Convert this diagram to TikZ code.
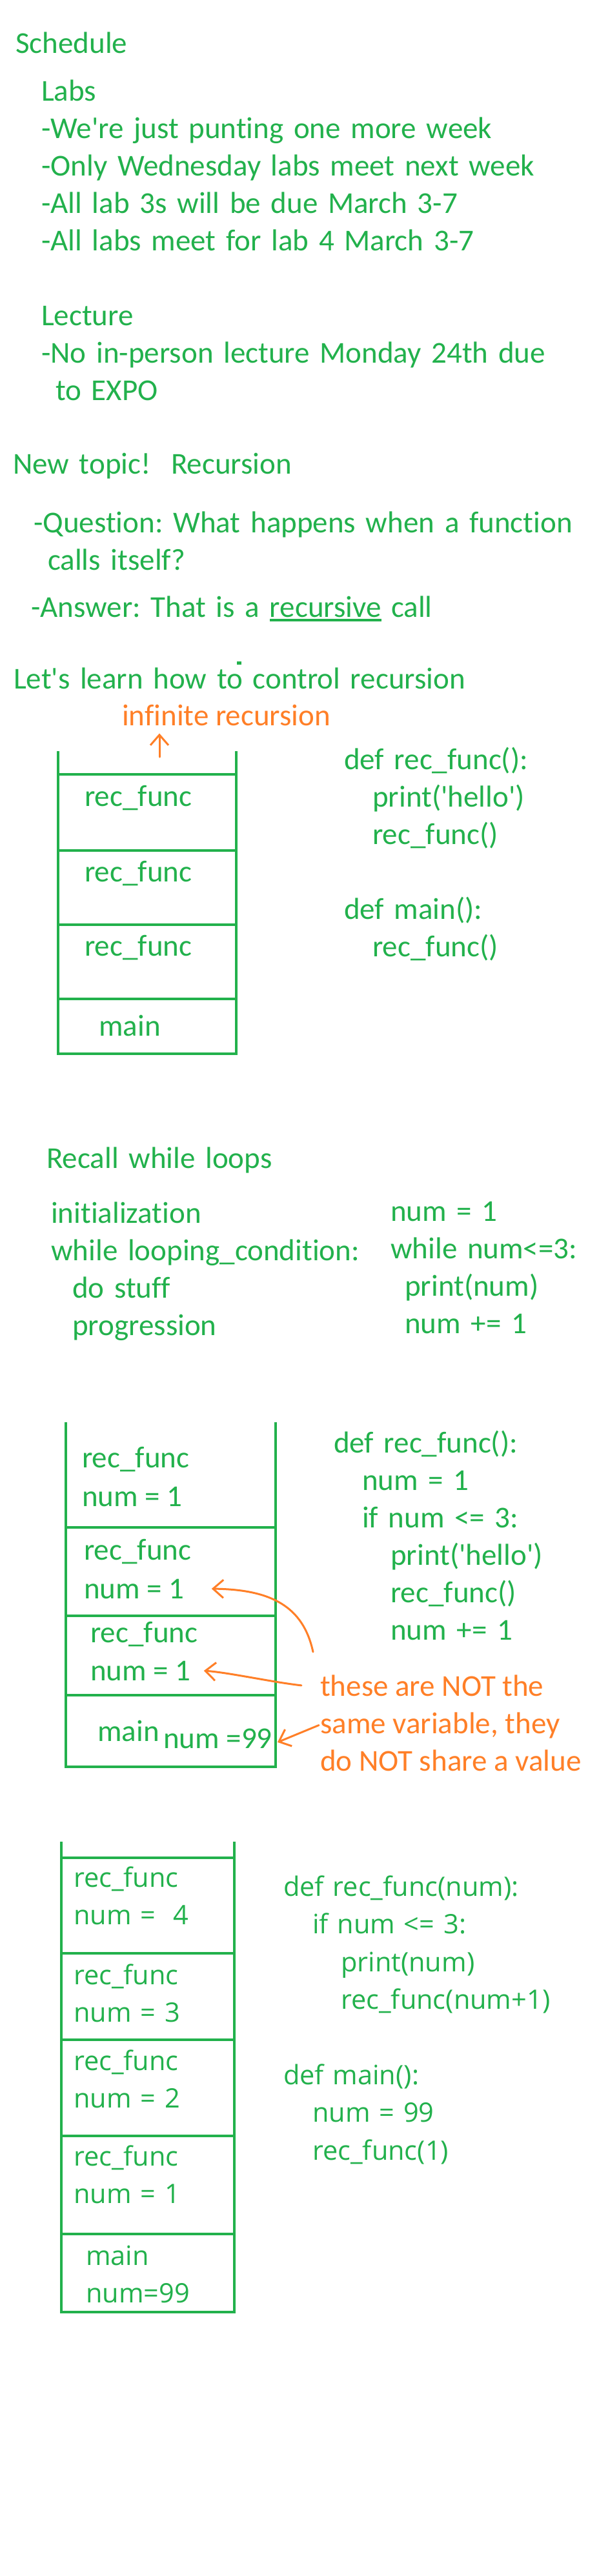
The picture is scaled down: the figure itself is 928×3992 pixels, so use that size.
\documentclass[tikz,border=0pt]{standalone}
\usepackage{fontspec}
\setmainfont{Carlito}[Ligatures=NoCommon]
\newfontfamily\uifont{Open Sans}
\usepackage{tikz}
\usetikzlibrary{arrows.meta, positioning, calc}

\definecolor{inkGreen}{HTML}{22B14C}
\definecolor{inkOrange}{HTML}{FF7F27}

\newcommand{\sq}{\textquotesingle}
\newcommand{\uword}[1]{\vtop{\hbox{#1}\kern3pt\hrule height 4pt}}

\begin{document}
\begin{tikzpicture}[
		x=1pt, y=-1pt,
		%--- Text Styles ---------------------------------------------------
		note/.style={
			anchor=base west,
			inner sep=0pt,
			text=inkGreen,
			font=\fontsize{47}{58}\selectfont\frenchspacing
		},
		block/.style={
			note,
			text width=860pt,
			align=left
		},
		ui/.style={
			note,
			font=\uifont\fontsize{41.5}{58.5}\selectfont\frenchspacing
		},
		ui block/.style={
			block,
			font=\uifont\fontsize{41.5}{58.5}\selectfont\frenchspacing
		},
		remark/.style={
			note,
			text=inkOrange
		},
		%--- Line Styles ---------------------------------------------------
		frame/.style={
			draw=inkGreen,
			line width=4.5pt
		},
		pointer/.style={
			-{Straight Barb[length=16pt,width=28pt]},
			draw=inkOrange,
			line width=3pt,
			line cap=round,
			line join=round
		}
		]
		
		\path[use as bounding box, fill=white] (0,0) rectangle (928,3992);
		
		%--- Schedule ----------------------------------------------------------
		
		\node[block] (sched) at (24,82) {Schedule};
		
		\node[block] (labs) at (64,156)
		{Labs\\-We\sq re just punting one more week\\-Only Wednesday labs meet next week\\-All lab 3s will be due March 3-7\\-All labs meet for lab 4 March 3-7\\[58pt]Lecture\\-No in-person lecture Monday 24th due\\\hspace*{22pt}to EXPO};
		
		%--- Recursion intro ---------------------------------------------------
		
		\node[block] (topic) at (20,734) {New topic!\ \ Recursion};
		
		\node[block] (question) at (52,825)
		{-Question: What happens when a function\\\hspace*{22pt}calls itself?};
		
		\node[block] (answer) at (48,956)
		{-Answer: That is a \uword{recursive} call};
		
		\fill[inkGreen] (367,1025) rectangle (374,1030);
		
		\node[block] (learn) at (21,1067) {Let\sq s learn how to control recursion};
		
		\node[remark] (infrec) at (189,1124) {infinite recursion};
		
		%--- Stack A: endless calls --------------------------------------------
		
		\draw[frame] (90,1164) -- (90,1633) -- (366,1633) -- (366,1164);
		\draw[frame] (90,1200) -- (366,1200) (90,1318) -- (366,1318)
		(90,1433) -- (366,1433) (90,1548) -- (366,1548);
		
		\node[note] (callA3) at (131,1249) {rec\_func};
		\node[note] (callA2) at (131,1366) {rec\_func};
		\node[note] (callA1) at (131,1481) {rec\_func};
		\node[note] (mainA)  at (153,1605) {main};
		
		\coordinate (topA) at (247,1173);
		\draw[pointer, shorten >=12pt] (topA) -- (infrec.south -| topA);
		
		\node[block] (codeA) at (533,1192)
		{def rec\_func():\\\hspace*{44pt}print(\sq hello\sq)\\\hspace*{44pt}rec\_func()\\[58pt]def main():\\\hspace*{44pt}rec\_func()};
		
		%--- While loop recap --------------------------------------------------
		
		\node[block] (recall) at (72,1810) {Recall while loops};
		
		\node[block] (loopgen) at (79,1895)
		{initialization\\while looping\_condition:\\\hspace*{33pt}do stuff\\\hspace*{33pt}progression};
		
		\node[block] (loopex) at (605,1892)
		{num = 1\\while num<=3:\\\hspace*{22pt}print(num)\\\hspace*{22pt}num += 1};
		
		%--- Stack B: local variables ------------------------------------------
		
		\draw[frame] (102,2204) -- (102,2738) -- (427,2738) -- (427,2204);
		\draw[frame] (102,2367) -- (427,2367) (102,2504) -- (427,2504)
		(102,2627) -- (427,2627);
		
		\node[note] (callB3) at (127,2274) {rec\_func};
		\node[note, below=60pt of callB3.base west, anchor=base west] (numB3) {num = 1};
		\node[note] (callB2) at (130,2417) {rec\_func};
		\node[note, below=60pt of callB2.base west, anchor=base west] (numB2) {num = 1};
		\node[note] (callB1) at (140,2545) {rec\_func};
		\node[note, below=59pt of callB1.base west, anchor=base west] (numB1) {num = 1};
		\node[note] (mainB)  at (151,2698) {main};
		\node[note] (numB0)  at (253,2709) {num =99};
		
		\node[block] (codeB) at (517,2251)
		{def rec\_func():\\\hspace*{44pt}num = 1\\\hspace*{44pt}if num <= 3:\\\hspace*{88pt}print(\sq hello\sq)\\\hspace*{88pt}rec\_func()\\\hspace*{88pt}num += 1};
		
		\node[remark] (warnA) at (496,2628) {these are NOT the};
		\node[remark, below=58pt of warnA.base west, anchor=base west] (warnB) {same variable, they};
		\node[remark, below=58pt of warnB.base west, anchor=base west] (warnC) {do NOT share a value};
		
		\coordinate (bendA) at (485,2560);
		\draw[pointer] (bendA) .. controls +(-15,-70) and +(93,1) .. ([xshift=42pt]numB2.east);
		\draw[pointer] ([xshift=-29pt]warnA.west) .. controls +(-45,-5) and +(40,3) .. ([xshift=20pt]numB1.east);
		\draw[pointer] ([xshift=-2pt]warnB.west) -- ([xshift=8pt,yshift=-6pt]numB0.east);
		
		%--- Stack C: passing num ----------------------------------------------
		
		\draw[frame] (95,2854) -- (95,3583) -- (363,3583) -- (363,2854);
		\draw[frame] (95,2879) -- (363,2879) (95,3027) -- (363,3027)
		(95,3161) -- (363,3161) (95,3310) -- (363,3310) (95,3462) -- (363,3462);
		
		\node[ui block] (callC4) at (114,2924) {rec\_func\\num =\ \ 4};
		\node[ui block] (callC3) at (114,3075) {rec\_func\\num = 3};
		\node[ui block] (callC2) at (114,3208) {rec\_func\\num = 2};
		\node[ui block] (callC1) at (114,3356) {rec\_func\\num = 1};
		\node[ui block] (mainC)  at (133,3510) {main\\num=99};
		
		\node[ui block] (codeC) at (439,2938)
		{def rec\_func(num):\\\hspace*{45pt}if num <= 3:\\\hspace*{89pt}print(num)\\\hspace*{89pt}rec\_func(num+1)\\[58pt]def main():\\\hspace*{45pt}num = 99\\\hspace*{45pt}rec\_func(1)};
		
	\end{tikzpicture}
\end{document}
